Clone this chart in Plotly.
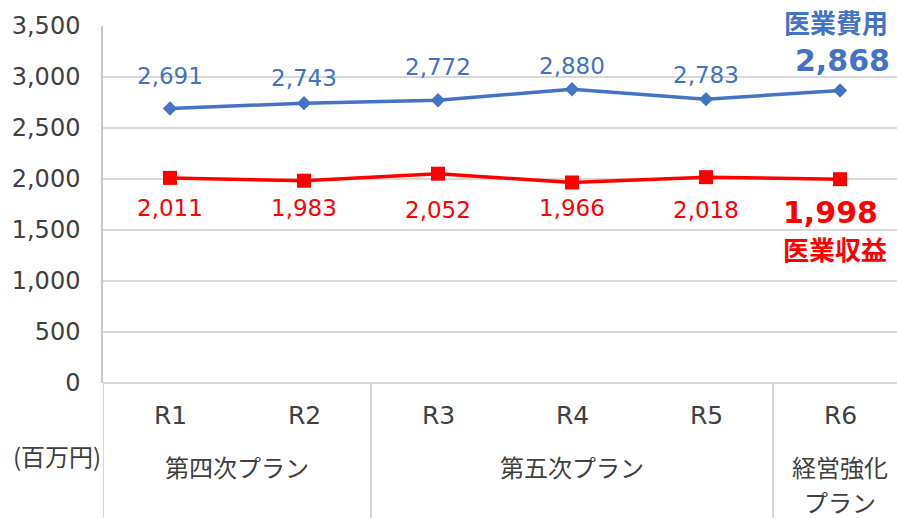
import plotly.graph_objects as go

categories = ["R1", "R2", "R3", "R4", "R5", "R6"]
groups = ["第四次プラン", "第五次プラン", "経営強化", "プラン"]
group_centers = [0.5, 3.0, 5.0, 5.0]
group_rows = [-0.235, -0.235, -0.235, -0.333]
group_bounds = [-0.5, 1.5, 4.5]
expense = [2691, 2743, 2772, 2880, 2783, 2868]
revenue = [2011, 1983, 2052, 1966, 2018, 1998]
expense_label_shift = [33, 25, 33, 23, 24, 30]
revenue_label_shift = [-30, -27, -36, -26, -33, -33]
yticks = [0, 500, 1000, 1500, 2000, 2500, 3000, 3500]

BLUE = "#4472C4"
RED = "#FF0000"
GREY = "#404040"
LINE = "#C8C8C8"
LAT = "DejaVu Sans, Noto Sans CJK JP"
CJK = "Noto Sans CJK JP"

x = list(range(len(categories)))
fig = go.Figure()
fig.add_trace(go.Scatter(x=x, y=expense, mode="lines+markers",
                         line=dict(color=BLUE, width=3.5),
                         marker=dict(symbol="diamond", size=11, color=BLUE),
                         cliponaxis=False, hoverinfo="skip"))
fig.add_trace(go.Scatter(x=x, y=revenue, mode="lines+markers",
                         line=dict(color=RED, width=3.5),
                         marker=dict(symbol="square", size=14, color=RED),
                         cliponaxis=False, hoverinfo="skip"))

ann = []
n = len(categories)
for i in range(n):
    last = i == n - 1
    et = f"<b>{expense[i]:,}</b>" if last else f"{expense[i]:,}"
    rt = f"<b>{revenue[i]:,}</b>" if last else f"{revenue[i]:,}"
    ann.append(dict(x=i, y=expense[i], xref="x", yref="y", text=et,
                    showarrow=False, yshift=expense_label_shift[i],
                    xshift=2 if last else 0, xanchor="center", yanchor="middle",
                    font=dict(family=LAT, size=30 if last else 23, color=BLUE)))
    ann.append(dict(x=i, y=revenue[i], xref="x", yref="y", text=rt,
                    showarrow=False, yshift=revenue_label_shift[i],
                    xshift=-10 if last else 0, xanchor="center", yanchor="middle",
                    font=dict(family=LAT, size=30 if last else 23, color=RED)))
    ann.append(dict(x=i, y=-0.09, xref="x", yref="paper", text=categories[i],
                    showarrow=False, xanchor="center", yanchor="middle",
                    font=dict(family=LAT, size=25, color=GREY)))
ann.append(dict(x=n - 1, y=expense[-1], xref="x", yref="y", text="<b>医業費用</b>",
                showarrow=False, yshift=69, xshift=-4, xanchor="center", yanchor="middle",
                font=dict(family=CJK, size=26, color=BLUE)))
ann.append(dict(x=n - 1, y=revenue[-1], xref="x", yref="y", text="<b>医業収益</b>",
                showarrow=False, yshift=-69, xshift=-5, xanchor="center", yanchor="middle",
                font=dict(family=CJK, size=26, color=RED)))
for g, c, r in zip(groups, group_centers, group_rows):
    ann.append(dict(x=c, y=r, xref="x", yref="paper", text=g, showarrow=False,
                    xanchor="center", yanchor="middle",
                    font=dict(family=CJK, size=24, color=GREY)))
ann.append(dict(x=-0.058, y=-0.202, xref="paper", yref="paper", text="(百万円)",
                showarrow=False, xanchor="center", yanchor="middle",
                font=dict(family=CJK, size=24, color=GREY)))

shapes = []
for b in group_bounds:
    shapes.append(dict(type="line", xref="x", yref="paper", x0=b, x1=b,
                       y0=-0.4, y1=0, line=dict(color=LINE, width=1.5)))
shapes.append(dict(type="line", xref="paper", yref="paper", x0=0, x1=1,
                   y0=0, y1=0, line=dict(color=LINE, width=1.5)))

fig.update_layout(
    width=897, height=518,
    margin=dict(l=103, r=0, t=26, b=135),
    paper_bgcolor="white", plot_bgcolor="white",
    showlegend=False,
    annotations=ann, shapes=shapes,
    xaxis=dict(range=[-0.5, 5.425], showticklabels=False, showgrid=False,
               zeroline=False, showline=False, ticks=""),
    yaxis=dict(range=[0, 3500], tickvals=yticks, ticktext=[f"{v:,}" for v in yticks],
               showgrid=True, gridcolor="#D9D9D9", gridwidth=1.5, zeroline=False,
               showline=True, linecolor=LINE, linewidth=1.5,
               ticklabelstandoff=16,
               tickfont=dict(family=LAT, size=24, color=GREY)),
)
fig.write_html("out.html", config={"displayModeBar": False},
               post_script="document.body.style.margin='0';")
